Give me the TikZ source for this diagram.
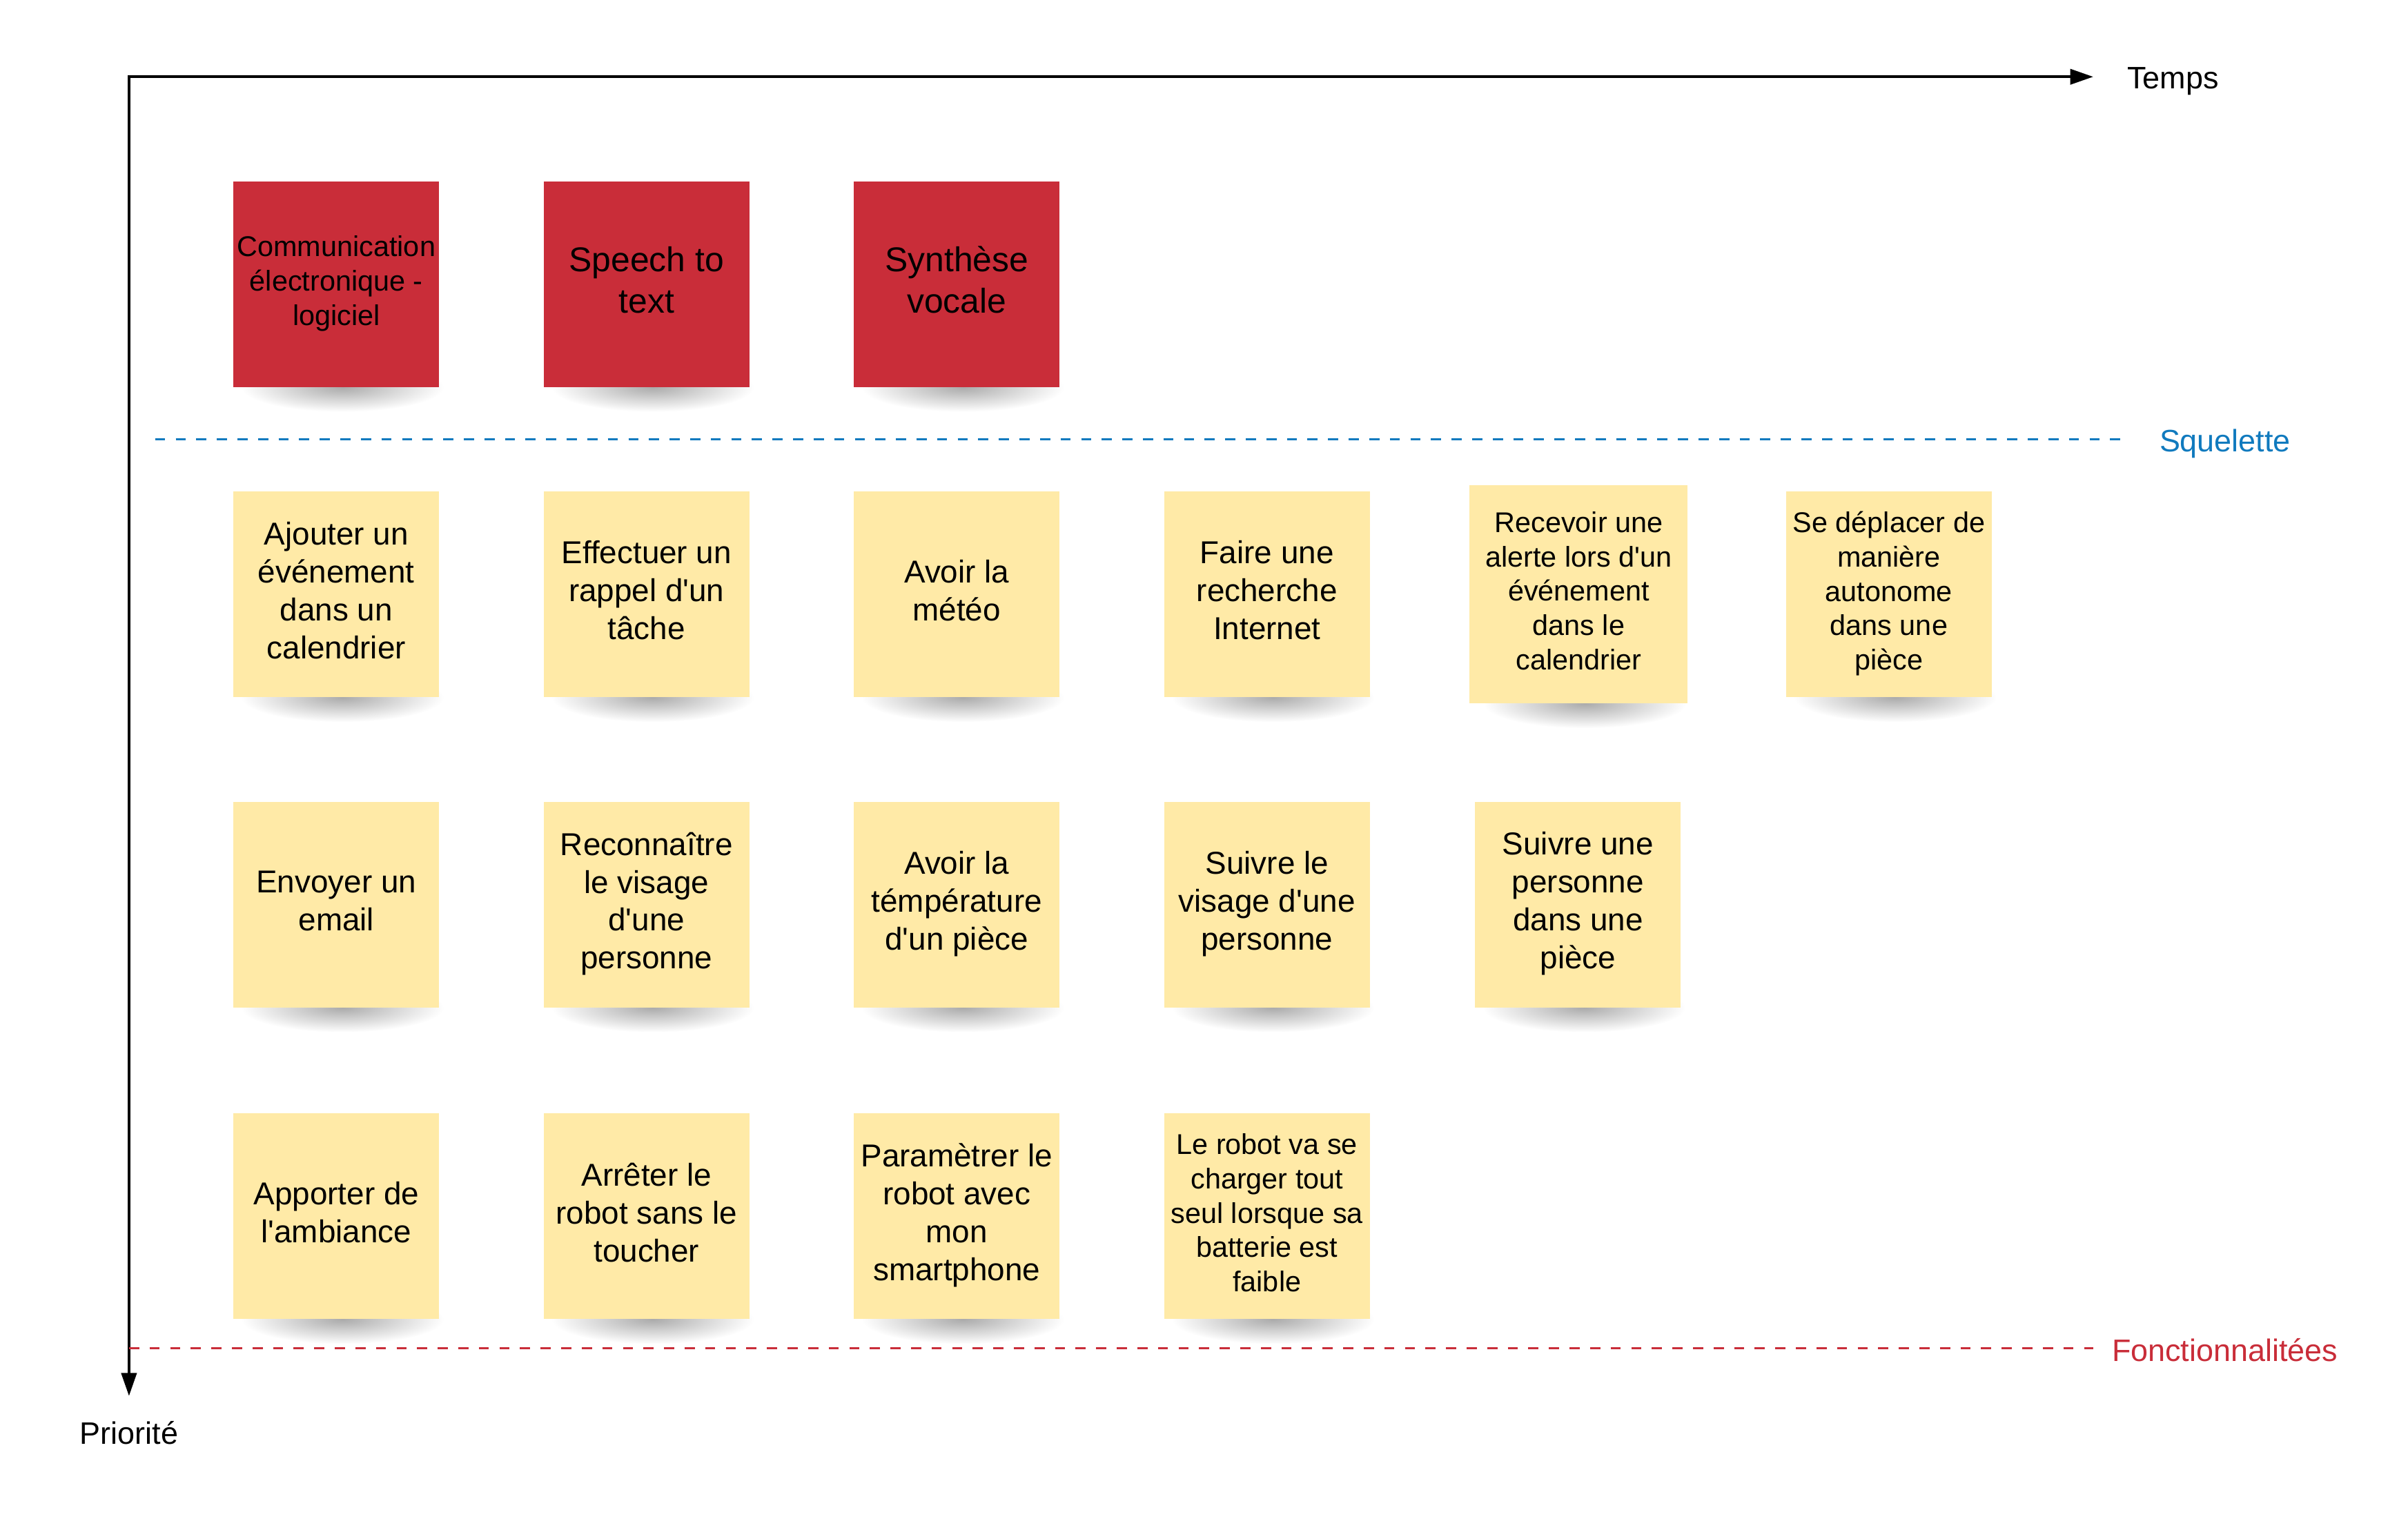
\documentclass[tikz,border=0pt]{standalone}
\usepackage{fontspec}
\newfontfamily\lsans{Liberation Sans}
\usetikzlibrary{arrows.meta,backgrounds,calc}

\definecolor{stickyred}{RGB}{201,45,57}
\definecolor{stickyyellow}{RGB}{255,234,167}
\definecolor{lineblue}{RGB}{16,122,190}
\definecolor{linered}{RGB}{201,45,57}

% line struts so that the text block is centred on full line boxes
\newcommand\linestrut{\rule[-0.2535em]{0pt}{1.2em}}

\tikzset{
  sticky/.style={minimum width=134pt, minimum height=134pt, inner sep=0pt,
    align=center, text=black, font=\lsans\fontsize{20.6}{24.7}\selectfont,
    execute at begin node=\linestrut, execute at end node=\linestrut},
  red sticky/.style={sticky, fill=stickyred},
  yellow sticky/.style={sticky, fill=stickyyellow},
  smalltext/.style={font=\lsans\fontsize{18.6}{22.4}\selectfont},
  bigtext/.style={font=\lsans\fontsize{22.4}{27}\selectfont},
  axisline/.style={line width=1.6pt, line join=miter,
    {Triangle[length=15pt,width=10pt]}-{Triangle[length=15pt,width=10pt]}},
  bandline/.style={line width=1.5pt, dash pattern=on 6.6pt off 6.8pt},
  axislabel/.style={font=\lsans\fontsize{20.2}{24}\selectfont, inner sep=0pt},
}

\begin{document}
\begin{tikzpicture}[x=1pt, y=-1pt]
\useasboundingbox (0,0) rectangle (1568,995);

% axes
\coordinate (origin) at (84,50);
\coordinate (timeend) at (1363,50);
\coordinate (prioend) at (84,909);
\draw[axisline] (prioend) -- (origin) -- (timeend);
\node[axislabel, anchor=west] (temps) at (1385,53) {Temps};
\node[axislabel] (priorite) at (84,933) {Priorité};

% band separators
\coordinate (sqa) at (101,286);
\coordinate (sqb) at (1383,286);
\draw[bandline, lineblue] (sqa) -- (sqb);
\node[axislabel, text=lineblue, anchor=west] (squelette) at (1406,289) {Squelette};

\coordinate (fna) at (84,878);
\coordinate (fnb) at (1363,878);
\draw[bandline, linered] (fna) -- (fnb);
\node[axislabel, text=linered, anchor=west] (fonct) at (1375,879) {Fonctionnalitées};

% skeleton stickies
\node[red sticky, smalltext] (s1) at (219,185) {Communication\\électronique -\\logiciel};
\node[red sticky, bigtext] (s2) at (421,185) {Speech to\\text};
\node[red sticky, bigtext] (s3) at (623,185) {Synthèse\\vocale};

% feature stickies, first row
\node[yellow sticky] (a1) at (219,387) {Ajouter un\\événement\\dans un\\calendrier};
\node[yellow sticky] (a2) at (421,387) {Effectuer un\\rappel d'un\\tâche};
\node[yellow sticky] (a3) at (623,387) {Avoir la\\météo};
\node[yellow sticky] (a4) at (825,387) {Faire une\\recherche\\Internet};
\node[yellow sticky, smalltext, minimum width=142pt, minimum height=142pt] (a5) at (1028,387)
  {Recevoir une\\alerte lors d'un\\événement\\dans le\\calendrier};
\node[yellow sticky, smalltext] (a6) at (1230,387) {Se déplacer de\\manière\\autonome\\dans une\\pièce};

% second row
\node[yellow sticky] (b1) at (219,589) {Envoyer un\\email};
\node[yellow sticky] (b2) at (421,589) {Reconnaître\\le visage\\d'une\\personne};
\node[yellow sticky] (b3) at (623,589) {Avoir la\\témpérature\\d'un pièce};
\node[yellow sticky] (b4) at (825,589) {Suivre le\\visage d'une\\personne};
\node[yellow sticky] (b5) at (1027.5,589) {Suivre une\\personne\\dans une\\pièce};

% third row
\node[yellow sticky] (c1) at (219,792) {Apporter de\\l'ambiance};
\node[yellow sticky] (c2) at (421,792) {Arrêter le\\robot sans le\\toucher};
\node[yellow sticky] (c3) at (623,792) {Paramètrer le\\robot avec\\mon\\smartphone};
\node[yellow sticky, smalltext] (c4) at (825,792) {Le robot va se\\charger tout\\seul lorsque sa\\batterie est\\faible};

% soft shadows under every sticky
\begin{scope}[on background layer]
  \foreach \n in {s1,s2,s3,a1,a2,a3,a4,a5,a6,b1,b2,b3,b4,b5,c1,c2,c3,c4}
    \shade[inner color=black!33, outer color=white]
      ($(\n.south)+(4,0)$) ellipse [x radius=66pt, y radius=16pt];
\end{scope}
\end{tikzpicture}
\end{document}
